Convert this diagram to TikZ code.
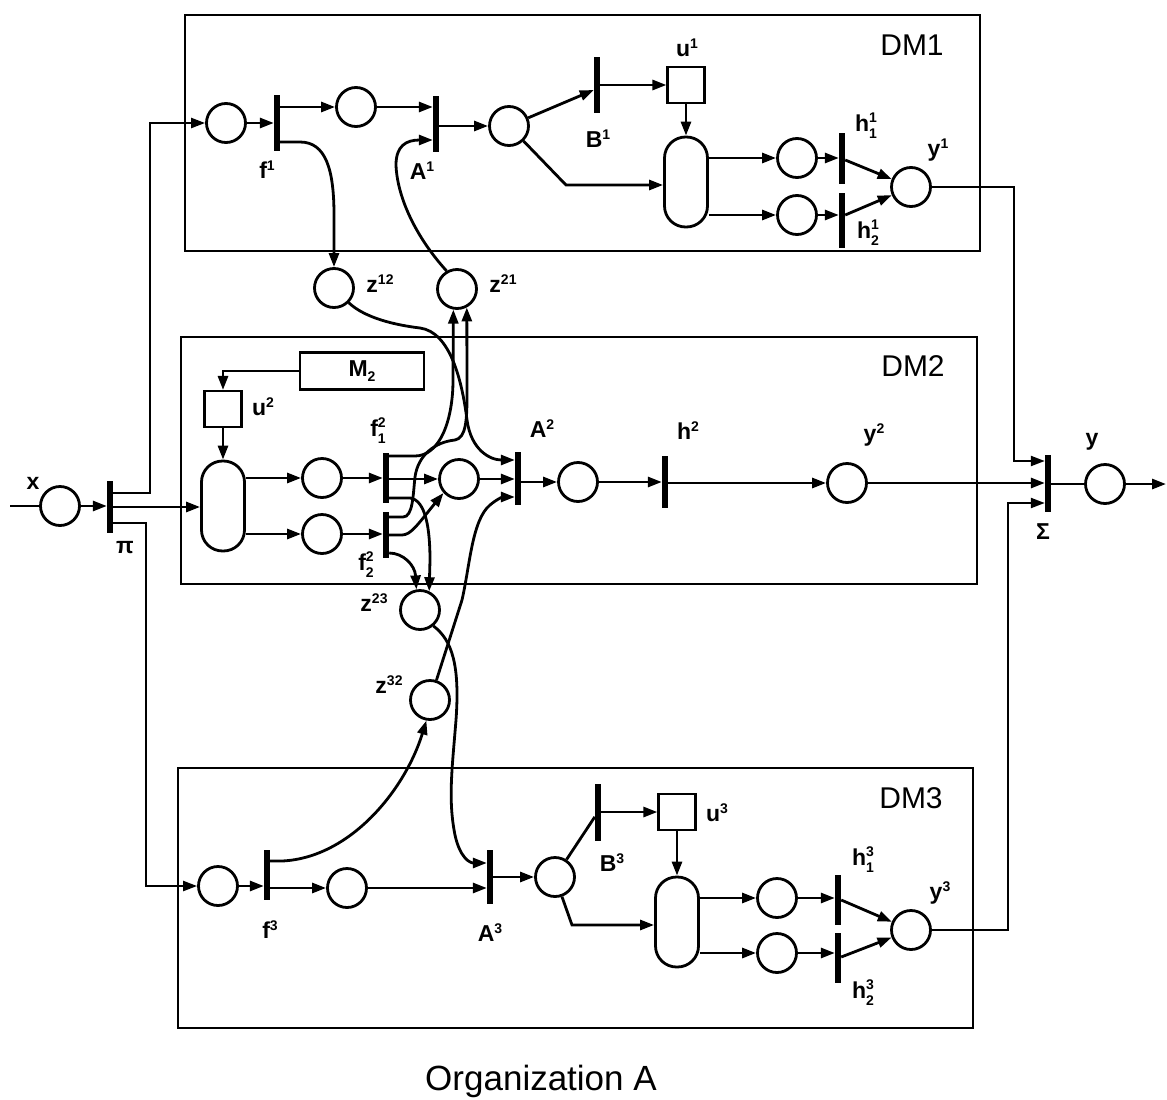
\documentclass[tikz,border=0pt]{standalone}
\usepackage{fontspec}
\setmainfont{Liberation Sans}
\usetikzlibrary{arrows.meta}
\newcommand\supfont{\fontsize{14}{14}\selectfont}
\newcommand\Sp[2]{#1\raisebox{8pt}{\supfont #2}}
\newcommand\Sb[2]{#1\raisebox{-5pt}{\supfont #2}}
\newcommand\SpSb[3]{#1\raisebox{-7pt}{\supfont\rlap{\raisebox{16pt}{#3}}#2}}
\begin{document}
\begin{tikzpicture}[x=1pt,y=-1pt,
  ln/.style={line width=2.8pt},
  arr/.style={line width=2.8pt,-{Triangle[length=14pt,width=10pt]}},
  outer/.style={line width=2.2pt},
  outerarr/.style={line width=2.2pt,-{Triangle[length=14pt,width=10pt]}},
  place/.style={circle,draw,line width=2.8pt,minimum size=39pt,inner sep=0pt},
  trans/.style={rectangle,fill=black,minimum width=6pt,inner sep=0pt},
  sq/.style={rectangle,draw,line width=2.2pt,minimum width=37pt,minimum height=36pt,inner sep=0pt},
  pill/.style={rectangle,draw,line width=2.8pt,rounded corners=21pt,minimum width=43pt,minimum height=90pt,inner sep=0pt},
  dmbox/.style={draw,line width=2pt},
  lab/.style={font=\fontsize{23}{23}\selectfont\bfseries,inner sep=0pt},
  big/.style={font=\fontsize{30}{30}\selectfont,inner sep=0pt}
]
\useasboundingbox (0,0) rectangle (1167,1100);

% decision-maker frames
\draw[dmbox] (185,15) rectangle (980,251);
\draw[dmbox] (181,337) rectangle (977,584);
\draw[dmbox] (178,768) rectangle (973,1028);

% ---------- global ----------
\coordinate (xin) at (10,506);
\node[place] (X) at (60,506) {};
\node[trans,minimum height=52pt] (PI) at (110,507) {};
\coordinate (yend) at (1166,484);

% ---------- DM1 ----------
\node[place] (D1a) at (226,123) {};
\node[trans,minimum height=56pt] (F1) at (277,123) {};
\node[place] (D1b) at (356,107) {};
\node[trans,minimum height=56pt] (A1) at (436,124) {};
\node[place] (D1c) at (509,126) {};
\node[trans,minimum height=56pt] (B1) at (597,85) {};
\node[sq] (U1) at (686,85) {};
\node[pill] (P1) at (686,182) {};
\node[place] (D1d) at (797,158) {};
\node[place] (D1e) at (797,215) {};
\node[trans,minimum height=51pt] (H11) at (842,158) {};
\node[trans,minimum height=55pt] (H21) at (842,220) {};
\node[place] (Y1) at (911,187) {};

% ---------- DM2 ----------
\node[draw,line width=2.2pt,minimum width=124pt,minimum height=37pt,inner sep=0pt,font=\fontsize{23}{23}\selectfont\bfseries] (M2) at (362,371) {\Sb{M}{2}};
\node[sq] (U2) at (223,409) {};
\node[pill] (P2) at (223,506) {};
\node[place] (D2a) at (322,478) {};
\node[place] (D2b) at (322,534) {};
\node[trans,minimum height=50pt] (F12) at (386,478) {};
\node[trans,minimum height=46pt] (F22) at (386,535) {};
\node[place] (C2m) at (459,479) {};
\node[trans,minimum height=53pt] (A2) at (518,478) {};
\node[place] (D2c) at (578,482) {};
\node[trans,minimum height=52pt] (H2) at (665,482) {};
\node[place] (Y2) at (847,483) {};
\node[trans,minimum height=57pt] (SIG) at (1048,483) {};
\node[place] (Yo) at (1105,484) {};

% ---------- cross places ----------
\node[place] (Z12) at (334,288) {};
\node[place] (Z21) at (457,289) {};
\node[place] (Z23) at (420,610) {};
\node[place] (Z32) at (430,700) {};

% ---------- DM3 ----------
\node[place] (D3a) at (218,886) {};
\node[trans,minimum height=50pt] (F3) at (267,875) {};
\node[place] (D3b) at (347,888) {};
\node[trans,minimum height=54pt] (A3) at (490,877) {};
\node[place] (D3c) at (555,877) {};
\node[trans,minimum height=57pt] (B3) at (598,812) {};
\node[sq] (U3) at (677,812) {};
\node[pill] (P3) at (677,922) {};
\node[place] (D3d) at (777,898) {};
\node[place] (D3e) at (777,953) {};
\node[trans,minimum height=50pt] (H13) at (838,900) {};
\node[trans,minimum height=50pt] (H23) at (838,958) {};
\node[place] (Y3) at (911,930) {};

% ---------- global connectors ----------
\draw[ln] (xin) -- (X);
\draw[arr] (X) -- (X -| PI.west);
\draw[outerarr] (PI.east |- 0,493) -- (150,493) -- (150,123) -- (D1a);
\draw[arr] (PI.east) -- (PI.east -| P2.west);
\draw[outerarr] (PI.east |- 0,523) -- (146,523) -- (146,886) -- (D3a);
\draw[outerarr] (Y1) -- (1014,187) -- (1014,461) -- (SIG.west |- 0,461);
\draw[arr] (Y2) -- (Y2 -| SIG.west);
\draw[outerarr] (Y3) -- (1008,930) -- (1008,503) -- (SIG.west |- 0,503);
\draw[ln] (SIG.east |- Yo) -- (Yo);
\draw[arr] (Yo) -- (yend);

% ---------- DM1 connectors ----------
\draw[arr] (D1a) -- (D1a -| F1.west);
\draw[arr] (F1.east |- D1b) -- (D1b);
\draw[arr] (D1b) -- (D1b -| A1.west);
\draw[arr] (A1.east |- D1c) -- (D1c);
\draw[arr] (D1c) -- (B1.west |- 0,90);
\draw[arr] (B1.east |- U1) -- (U1);
\draw[arr] (U1) -- (P1.north);
\draw[arr] (D1c) -- (566,185) -- (P1.west |- 0,185);
\draw[arr] (P1.east |- D1d) -- (D1d);
\draw[arr] (P1.east |- D1e) -- (D1e);
\draw[arr] (D1d) -- (D1d -| H11.west);
\draw[arr] (D1e) -- (D1e -| H21.west);
\draw[arr] (H11.east |- 0,160) -- (Y1);
\draw[arr] (H21.east |- 0,215) -- (Y1);

% ---------- DM2 connectors ----------
\draw[arr] (M2.west) -| (U2.north);
\draw[arr] (U2) -- (P2.north);
\draw[arr] (P2.east |- D2a) -- (D2a);
\draw[arr] (P2.east |- D2b) -- (D2b);
\draw[arr] (D2a) -- (D2a -| F12.west);
\draw[arr] (D2b) -- (D2b -| F22.west);
\draw[arr] (F12.east |- C2m) -- (C2m);
\draw[arr] (C2m) -- (C2m -| A2.west);
\draw[arr] (A2.east |- D2c) -- (D2c);
\draw[arr] (D2c) -- (D2c -| H2.west);
\draw[arr] (H2.east |- Y2) -- (Y2);

% ---------- inter-DM connectors ----------
\draw[arr] (F1.east |- 0,142) -- (300,142) .. controls (326,142) and (334,170) .. (334,215) -- (Z12.north);
\draw[arr] (Z21.120) .. controls (414,235) and (397,195) .. (396,165) .. controls (396,146) and (406,140) .. (A1.west |- 0,140);
\draw[arr] (Z12.-45) .. controls (365,318) and (395,325) .. (420,328) .. controls (450,332) and (462,380) .. (467,420) .. controls (471,450) and (490,460) .. (A2.west |- 0,460);
\draw[arr] (F12.east |- 0,456) -- (415,456) .. controls (440,456) and (453,420) .. (453,380) -- (Z21.-100);
\draw[arr] (F22.east |- 0,517) -- (403,517) .. controls (413,517) and (413,495) .. (415,477) .. controls (418,455) and (435,442) .. (455,440) .. controls (466,438) and (467,420) .. (467,395) -- (Z21.-62);
\draw[arr] (F12.east |- 0,498) -- (410,498) .. controls (426,500) and (430,530) .. (430,560) -- (Z23.64);
\draw[arr] (F22.east |- 0,553) .. controls (403,553) and (415,565) .. (Z23.100);
\draw[arr] (F22.east |- 0,535) -- (402,535) .. controls (411,535) and (418,524) .. (C2m.-138);
\draw[arr] (Z23.-50) .. controls (452,640) and (460,665) .. (456,720) .. controls (452,770) and (448,800) .. (455,835) .. controls (460,858) and (470,863) .. (A3.west |- 0,863);
\draw[arr] (F3.east |- 0,861) -- (282,861) .. controls (350,858) and (405,790) .. (Z32.-100);
\draw[arr] (Z32.72) -- (462,600) .. controls (470,565) and (472,520) .. (490,505) .. controls (497,499) and (503,497) .. (A2.west |- 0,497);

% ---------- DM3 connectors ----------
\draw[arr] (D3a) -- (D3a -| F3.west);
\draw[arr] (F3.east |- D3b) -- (D3b);
\draw[arr] (D3b) -- (D3b -| A3.west);
\draw[arr] (A3.east |- D3c) -- (D3c);
\draw[ln] (D3c) -- (B3);
\draw[arr] (B3) -- (U3);
\draw[arr] (U3) -- (P3.north);
\draw[arr] (D3c) -- (572,925) -- (P3.west |- 0,925);
\draw[arr] (P3.east |- D3d) -- (D3d);
\draw[arr] (P3.east |- D3e) -- (D3e);
\draw[arr] (D3d) -- (D3d -| H13.west);
\draw[arr] (D3e) -- (D3e -| H23.west);
\draw[arr] (H13.east |- 0,900) -- (Y3);
\draw[arr] (H23.east |- 0,957) -- (Y3);

% ---------- labels ----------
\node[big] (tDM1) at (912,45) {DM1};
\node[big] (tDM2) at (913,366) {DM2};
\node[big] (tDM3) at (911,798) {DM3};
\node[lab] (tx) at (33,483) {x};
\node[lab] (tpi) at (125,548) {π};
\node[lab] (tf1) at (267,170) {\Sp{f}{1}};
\node[lab] (tA1) at (422,171) {\Sp{A}{1}};
\node[lab] (tB1) at (598,139) {\Sp{B}{1}};
\node[lab] (tu1) at (687,48) {\Sp{u}{1}};
\node[lab] (th11) at (866,126) {\SpSb{h}{1}{1}};
\node[lab] (th21) at (868,233) {\SpSb{h}{2}{1}};
\node[lab] (ty1) at (938,150) {\Sp{y}{1}};
\node[lab] (tz12) at (380,284) {\Sp{z}{12}};
\node[lab] (tz21) at (503,284) {\Sp{z}{21}};
\node[lab] (tu2) at (263,407) {\Sp{u}{2}};
\node[lab] (tf12) at (378,431) {\SpSb{f}{1}{2}};
\node[lab] (tf22) at (366,565) {\SpSb{f}{2}{2}};
\node[lab] (tA2) at (542,429) {\Sp{A}{2}};
\node[lab] (th2) at (688,431) {\Sp{h}{2}};
\node[lab] (ty2) at (874,435) {\Sp{y}{2}};
\node[lab] (ty) at (1092,442) {y};
\node[lab] (tsig) at (1043,532) {Σ};
\node[lab] (tz23) at (374,603) {\Sp{z}{23}};
\node[lab] (tz32) at (389,685) {\Sp{z}{32}};
\node[lab] (tf3) at (270,930) {\Sp{f}{3}};
\node[lab] (tA3) at (490,933) {\Sp{A}{3}};
\node[lab] (tB3) at (612,863) {\Sp{B}{3}};
\node[lab] (tu3) at (717,813) {\Sp{u}{3}};
\node[lab] (th13) at (863,860) {\SpSb{h}{1}{3}};
\node[lab] (th23) at (863,993) {\SpSb{h}{2}{3}};
\node[lab] (ty3) at (940,893) {\Sp{y}{3}};
\node[font=\fontsize{35}{35}\selectfont,inner sep=0pt] (title) at (541,1081) {Organization A};
\end{tikzpicture}
\end{document}
